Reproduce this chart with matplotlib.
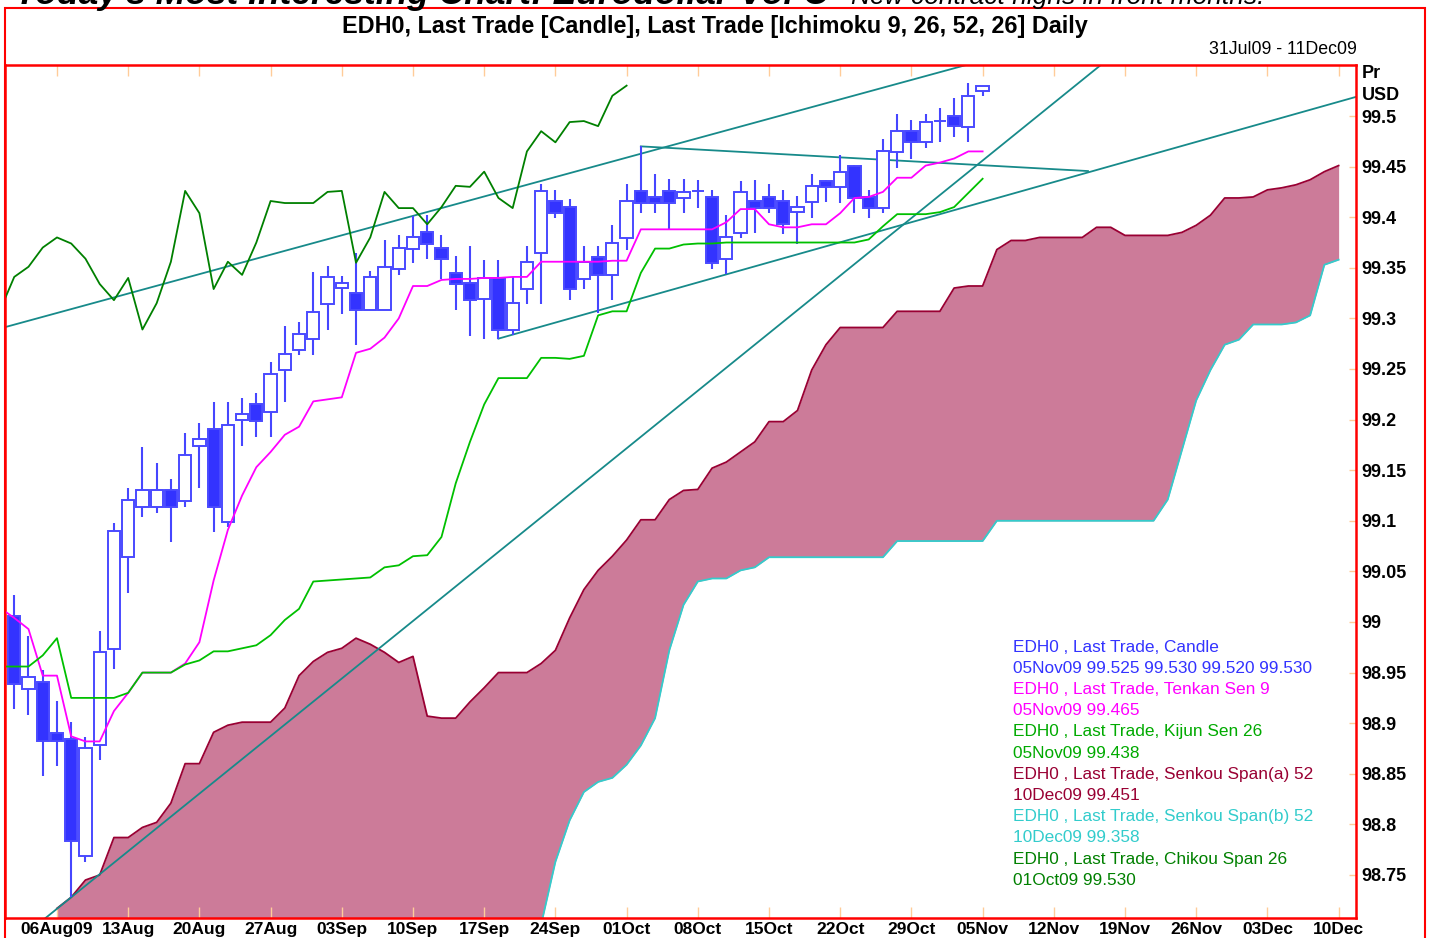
import numpy as np
import matplotlib.pyplot as plt
from matplotlib.patches import Rectangle

plt.rcParams['font.family'] = ['Liberation Sans', 'DejaVu Sans']

# one slot per weekday, index 0 = 31Jul09, candles run 03Aug09 (1) .. 05Nov09 (69)
opens = [99.006, 98.934, 98.941, 98.890, 98.884, 98.769, 98.878, 98.973, 99.064, 99.114,
         99.114, 99.130, 99.120, 99.174, 99.191, 99.099, 99.200, 99.215, 99.208, 99.249,
         99.269, 99.280, 99.314, 99.330, 99.325, 99.308, 99.308, 99.349, 99.369, 99.385,
         99.370, 99.345, 99.335, 99.319, 99.340, 99.289, 99.329, 99.365, 99.416, 99.410,
         99.339, 99.361, 99.343, 99.379, 99.426, 99.420, 99.426, 99.419, 99.426, 99.420,
         99.359, 99.384, 99.416, 99.420, 99.416, 99.405, 99.415, 99.436, 99.430, 99.451,
         99.420, 99.409, 99.464, 99.485, 99.474, 99.495, 99.500, 99.489, 99.525]
highs = [99.027, 98.986, 98.953, 98.922, 98.901, 98.886, 98.991, 99.098, 99.132, 99.173,
         99.157, 99.141, 99.187, 99.197, 99.217, 99.217, 99.221, 99.226, 99.257, 99.292,
         99.296, 99.346, 99.352, 99.342, 99.365, 99.347, 99.377, 99.382, 99.401, 99.402,
         99.382, 99.362, 99.372, 99.358, 99.358, 99.341, 99.372, 99.433, 99.427, 99.418,
         99.372, 99.372, 99.392, 99.433, 99.470, 99.443, 99.438, 99.438, 99.437, 99.427,
         99.402, 99.436, 99.437, 99.433, 99.427, 99.421, 99.443, 99.437, 99.461, 99.452,
         99.427, 99.477, 99.502, 99.496, 99.502, 99.508, 99.518, 99.533, 99.530]
lows = [98.914, 98.908, 98.848, 98.858, 98.728, 98.763, 98.864, 98.954, 99.029, 99.104,
        99.108, 99.079, 99.114, 99.132, 99.089, 99.094, 99.174, 99.183, 99.183, 99.217,
        99.264, 99.264, 99.289, 99.304, 99.274, 99.308, 99.308, 99.343, 99.355, 99.359,
        99.339, 99.308, 99.283, 99.280, 99.280, 99.284, 99.314, 99.314, 99.399, 99.318,
        99.329, 99.305, 99.318, 99.368, 99.404, 99.404, 99.388, 99.404, 99.409, 99.349,
        99.344, 99.379, 99.384, 99.404, 99.383, 99.374, 99.399, 99.415, 99.414, 99.404,
        99.399, 99.404, 99.449, 99.458, 99.468, 99.474, 99.479, 99.474, 99.520]
closes = [98.939, 98.946, 98.882, 98.882, 98.784, 98.875, 98.970, 99.090, 99.121, 99.130,
          99.130, 99.114, 99.165, 99.181, 99.114, 99.195, 99.206, 99.199, 99.245, 99.265,
          99.285, 99.306, 99.341, 99.335, 99.308, 99.341, 99.351, 99.370, 99.380, 99.374,
          99.359, 99.334, 99.318, 99.340, 99.289, 99.315, 99.356, 99.426, 99.404, 99.329,
          99.356, 99.343, 99.375, 99.416, 99.414, 99.414, 99.414, 99.425, 99.426, 99.355,
          99.380, 99.425, 99.409, 99.409, 99.393, 99.410, 99.431, 99.430, 99.445, 99.419,
          99.409, 99.465, 99.485, 99.474, 99.494, 99.495, 99.490, 99.520, 99.530]

# tenkan / kijun, index 0..69
tenkan = [99.014, 99.004, 98.993, 98.947, 98.947, 98.887, 98.882, 98.882, 98.912, 98.930,
          98.950, 98.950, 98.950, 98.959, 98.980, 99.041, 99.091, 99.125, 99.153, 99.168,
          99.185, 99.193, 99.218, 99.220, 99.222, 99.266, 99.270, 99.281, 99.300, 99.332,
          99.332, 99.338, 99.339, 99.339, 99.340, 99.340, 99.341, 99.341, 99.356, 99.356,
          99.356, 99.356, 99.356, 99.357, 99.357, 99.388, 99.388, 99.388, 99.388, 99.388,
          99.388, 99.395, 99.408, 99.408, 99.393, 99.390, 99.390, 99.393, 99.393, 99.404,
          99.419, 99.420, 99.425, 99.439, 99.439, 99.451, 99.454, 99.458, 99.465, 99.465]
kijun = [98.956, 98.956, 98.956, 98.967, 98.984, 98.925, 98.925, 98.925, 98.925, 98.930,
         98.950, 98.950, 98.950, 98.958, 98.962, 98.971, 98.971, 98.974, 98.977, 98.987,
         99.002, 99.013, 99.040, 99.041, 99.042, 99.043, 99.044, 99.054, 99.056, 99.065,
         99.066, 99.084, 99.137, 99.178, 99.215, 99.241, 99.241, 99.241, 99.261, 99.261,
         99.260, 99.263, 99.303, 99.307, 99.307, 99.345, 99.369, 99.369, 99.373, 99.374,
         99.374, 99.375, 99.375, 99.375, 99.375, 99.375, 99.375, 99.375, 99.375, 99.375,
         99.375, 99.378, 99.391, 99.403, 99.403, 99.403, 99.405, 99.410, 99.424, 99.438]

# senkou spans, index 4..94 (10Dec09)
span_a = [98.717, 98.728, 98.745, 98.750, 98.787, 98.787, 98.797, 98.802, 98.821, 98.860,
          98.860, 98.891, 98.898, 98.901, 98.901, 98.901, 98.915, 98.947, 98.961, 98.970,
          98.974, 98.984, 98.978, 98.970, 98.960, 98.966, 98.907, 98.905, 98.905, 98.921,
          98.935, 98.950, 98.950, 98.950, 98.959, 98.972, 99.004, 99.032, 99.051, 99.065,
          99.081, 99.101, 99.101, 99.121, 99.130, 99.131, 99.152, 99.158, 99.168, 99.178,
          99.198, 99.198, 99.209, 99.249, 99.274, 99.291, 99.291, 99.291, 99.291, 99.307,
          99.307, 99.307, 99.307, 99.330, 99.332, 99.332, 99.368, 99.377, 99.377, 99.380,
          99.380, 99.380, 99.380, 99.390, 99.390, 99.382, 99.382, 99.382, 99.382, 99.385,
          99.392, 99.402, 99.419, 99.419, 99.420, 99.427, 99.429, 99.432, 99.437, 99.445, 99.451]
# first 34 values of span b sit below the chart floor
span_b = [98.69] * 34 + [
          98.701, 98.763, 98.804, 98.832, 98.842, 98.846, 98.859, 98.878, 98.905, 98.972,
          99.017, 99.040, 99.043, 99.043, 99.051, 99.054, 99.064, 99.064, 99.064, 99.064,
          99.064, 99.064, 99.064, 99.064, 99.064, 99.080, 99.080, 99.080, 99.080, 99.080,
          99.080, 99.080, 99.100, 99.100, 99.100, 99.100, 99.100, 99.100, 99.100, 99.100,
          99.100, 99.100, 99.100, 99.100, 99.121, 99.170, 99.219, 99.249, 99.274, 99.279,
          99.294, 99.294, 99.294, 99.296, 99.303, 99.353, 99.358]

chikou_shift = 25

# hand drawn trend lines: (bar index, price) anchors
trend_up = [(0, 99.290), (68, 99.551)]
trend_steep = [(5, 98.728), (77, 99.547)]
trend_low = [(35, 99.280), (96, 99.522)]
trend_flat = [(45, 99.470), (76.4, 99.4456)]

tick_pos = list(range(4, 95, 5))
tick_labels = ['06Aug09', '13Aug', '20Aug', '27Aug', '03Sep', '10Sep', '17Sep', '24Sep',
               '01Oct', '08Oct', '15Oct', '22Oct', '29Oct', '05Nov', '12Nov', '19Nov',
               '26Nov', '03Dec', '10Dec']
y_ticks = [98.75, 98.8, 98.85, 98.9, 98.95, 99.0, 99.05, 99.1, 99.15, 99.2, 99.25,
           99.3, 99.35, 99.4, 99.45, 99.5]

CANDLE = '#3333ff'
TENKAN = '#ff00ff'
KIJUN = '#00c000'
SPAN_A = '#990033'
SPAN_B = '#33cccc'
CHIKOU = '#008000'
TREND = '#178a8a'
CLOUD = '#cc7b99'
TICK = '#ffcc99'

fig = plt.figure(figsize=(14.31, 9.38), dpi=100)
ax = fig.add_axes([5/1431, 1-918/938, 1351/1431, 853/938])

# cloud
sx = np.arange(4, 95)
ax.fill_between(sx, span_a, span_b, color=CLOUD, lw=0, zorder=1)
ax.plot(sx, span_a, color=SPAN_A, lw=1.3, zorder=2)
ax.plot(sx, span_b, color=SPAN_B, lw=1.3, zorder=2)

# trend lines
ax.axline(trend_up[0], trend_up[1], color=TREND, lw=1.3, zorder=2.5)
ax.axline(trend_steep[0], trend_steep[1], color=TREND, lw=1.3, zorder=2.5)
for seg in (trend_low, trend_flat):
    ax.plot([seg[0][0], seg[1][0]], [seg[0][1], seg[1][1]], color=TREND, lw=1.3, zorder=2.5)

# candles
cx = np.arange(1, 70)
o = np.array(opens)
c = np.array(closes)
up = c >= o
ax.vlines(cx, lows, highs, color='#4646ff', lw=1.5, zorder=3)
ax.bar(cx, np.abs(c - o), bottom=np.minimum(o, c), width=0.86,
       color=np.where(up, 'white', CANDLE), edgecolor='#4a4aff', lw=1.4, zorder=4)

# ichimoku lines
ix = np.arange(0, 70)
ax.plot(ix, tenkan, color=TENKAN, lw=1.3, zorder=5)
ax.plot(ix, kijun, color=KIJUN, lw=1.3, zorder=5)
ax.plot(cx - chikou_shift, closes, color=CHIKOU, lw=1.3, zorder=5)

ax.set_xlim(0.35, 95.22)
ax.set_ylim(98.7075, 99.5504)

ax.set_xticks(tick_pos)
ax.set_xticklabels(tick_labels, fontsize=12.5, fontweight='bold')
ax.set_yticks(y_ticks)
ax.set_yticklabels([f'{v:g}' for v in y_ticks], fontsize=13, fontweight='bold')
ax.yaxis.tick_right()
ax.tick_params(axis='x', which='both', direction='in', length=8, width=1, color=TICK,
               top=True, bottom=True, pad=3)
ax.tick_params(axis='y', which='both', direction='in', length=5, width=1, color=TICK,
               left=False, right=True, pad=4)
for s in ax.spines.values():
    s.set_color('red')
    s.set_linewidth(1.8)

# page heading, cut off by the top edge just as in the source screenshot
fig.text(15/1431, 1-4/938, "Today's Most Interesting Chart: Eurodollar Vol C",
         ha='left', va='baseline', fontsize=25.5, fontweight='bold', fontstyle='italic')
fig.text(1265/1431, 1-4/938, '\u2013 New contract highs in front months.',
         ha='right', va='baseline', fontsize=19, fontstyle='italic')

# headings
fig.text(715/1431, 1-27/938, 'EDH0, Last Trade [Candle], Last Trade [Ichimoku 9, 26, 52, 26] Daily',
         ha='center', va='center', fontsize=16.8, fontweight='bold')
fig.text(1357/1431, 1-49/938, '31Jul09 - 11Dec09', ha='right', va='center', fontsize=12.8)
fig.text(1362/1431, 1-74/938, 'Pr', ha='left', va='center', fontsize=13, fontweight='bold')
fig.text(1362/1431, 1-95/938, 'USD', ha='left', va='center', fontsize=13, fontweight='bold')

# legend block
legend_lines = [
    ('EDH0 , Last Trade, Candle', CANDLE),
    ('05Nov09 99.525 99.530 99.520 99.530', CANDLE),
    ('EDH0 , Last Trade, Tenkan Sen 9', TENKAN),
    ('05Nov09 99.465', TENKAN),
    ('EDH0 , Last Trade, Kijun Sen 26', '#00aa00'),
    ('05Nov09 99.438', '#00aa00'),
    ('EDH0 , Last Trade, Senkou Span(a) 52', SPAN_A),
    ('10Dec09 99.451', SPAN_A),
    ('EDH0 , Last Trade, Senkou Span(b) 52', SPAN_B),
    ('10Dec09 99.358', SPAN_B),
    ('EDH0 , Last Trade, Chikou Span 26', CHIKOU),
    ('01Oct09 99.530', CHIKOU),
]
for k, (txt, col) in enumerate(legend_lines):
    fig.text(1013/1431, 1-(647 + k*21.2)/938, txt, ha='left', va='center', fontsize=12.4, color=col)

# outer page frame
fig.patches.append(Rectangle((5/1431, -0.02), 1420/1431, 1.02-8/938, transform=fig.transFigure,
                             fill=False, edgecolor='red', lw=1.5))

fig.savefig('out.png', dpi=100)
